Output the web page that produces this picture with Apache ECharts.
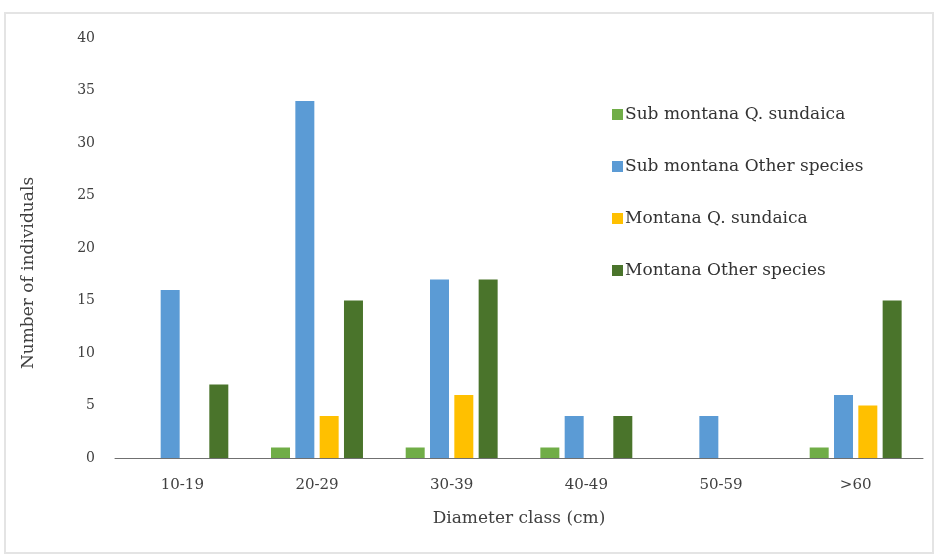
<!DOCTYPE html>
<html>
<head>
<meta charset="utf-8">
<script src="https://cdn.jsdelivr.net/npm/echarts@6/dist/echarts.min.js"></script>
<style>
html,body{margin:0;padding:0;background:#fff;}
#chart{width:935px;height:555px;}
</style>
</head>
<body>
<div id="chart"></div>
<script>
const categories = ['10-19', '20-29', '30-39', '40-49', '50-59', '>60'];
const subQ = [0, 1, 1, 1, 0, 1];
const subOther = [16, 34, 17, 4, 4, 6];
const monQ = [0, 4, 6, 0, 0, 5];
const monOther = [7, 15, 17, 4, 0, 15];
const seriesNames = ['Sub montana Q. sundaica', 'Sub montana Other species', 'Montana Q. sundaica', 'Montana Other species'];
const yTicks = { min: 0, max: 40, interval: 5 };

const FONT = 'DejaVu Serif';
const colors = ['#70AD47', '#5B9BD5', '#FFC000', '#4A742B'];
const chart = echarts.init(document.getElementById('chart'));
const dataSets = [subQ, subOther, monQ, monOther];

chart.setOption({
  animation: false,
  color: colors,
  textStyle: { fontFamily: FONT },
  grid: { left: 115, right: 12, top: 38, bottom: 97, containLabel: false },
  legend: {
    orient: 'vertical',
    left: 607,
    top: 101,
    itemWidth: 11,
    itemHeight: 11,
    itemGap: 35,
    icon: 'rect',
    textStyle: { fontFamily: FONT, fontSize: 17, color: '#333', padding: [0, 0, 0, -3] },
    data: seriesNames
  },
  xAxis: {
    type: 'category',
    data: categories,
    axisLine: { lineStyle: { color: '#707070', width: 1 } },
    axisTick: { show: false },
    axisLabel: { color: '#404040', fontSize: 15, fontFamily: FONT, margin: 20 },
    name: 'Diameter class (cm)',
    nameLocation: 'middle',
    nameGap: 52,
    nameTextStyle: { color: '#404040', fontSize: 17, fontFamily: FONT }
  },
  yAxis: {
    type: 'value',
    min: yTicks.min,
    max: yTicks.max,
    interval: yTicks.interval,
    splitLine: { show: false },
    axisLine: { show: false },
    axisTick: { show: false },
    axisLabel: { color: '#404040', fontSize: 14, fontFamily: FONT, margin: 20 }
  },
  graphic: [
    {
      type: 'rect',
      shape: { x: 5, y: 13, width: 928, height: 540 },
      style: { fill: 'none', stroke: '#e4e4e4', lineWidth: 2 },
      silent: true
    },
    {
      type: 'text',
      x: 29,
      y: 273,
      rotation: Math.PI / 2,
      style: {
        text: 'Number of individuals',
        fontFamily: FONT,
        fontSize: 17,
        fill: '#404040',
        align: 'center',
        verticalAlign: 'middle'
      }
    }
  ],
  series: seriesNames.map((name, i) => ({
    name: name,
    type: 'bar',
    data: dataSets[i],
    barWidth: 19,
    barGap: '28%',
    itemStyle: { color: colors[i] }
  }))
});
</script>
</body>
</html>
